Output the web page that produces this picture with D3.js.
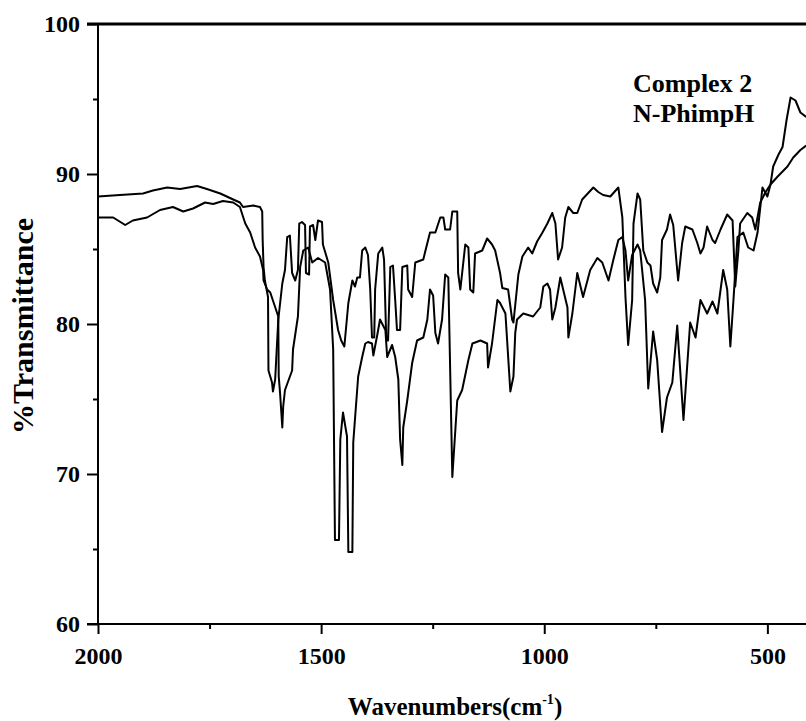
<!DOCTYPE html>
<html>
<head>
<meta charset="utf-8">
<script src="https://cdn.jsdelivr.net/npm/d3@7"></script>
<style>
  body { margin: 0; background: #fff; }
  svg text { font-family: "Liberation Serif", "Times New Roman", serif; font-weight: bold; fill: #000; }
</style>
</head>
<body>
<svg id="chart" width="806" height="721"></svg>
<script>
// spectrum with the lower baseline at 2000 cm-1
const complexWn = [2000,1966,1939,1922,1890,1861,1832,1809,1787,1760,1742,1720,1697,1682,1670,1659,1648,1637,1630,1629,
  1621,1614,1596,1595,1592,1587,1585,1581,1565,1563,1552,1547,1540,1529,1520,1507,1491,1480,1473,1469,
  1460,1457,1451,1442,1439,1430,1428,1417,1408,1401,1395,1386,1383,1374,1368,1356,1352,1341,1334,1327,
  1323,1318,1316,1307,1296,1285,1271,1262,1256,1249,1244,1238,1229,1222,1215,1206,1195,1184,1170,1161,
  1143,1128,1126,1117,1105,1099,1087,1076,1069,1065,1061,1047,1025,1009,1002,993,987,982,975,964,
  948,946,937,926,913,897,881,870,856,845,834,825,818,812,803,791,785,774,767,756,
  747,736,725,713,702,688,673,661,650,635,623,612,599,590,583,576,567,554,543,531,
  522,511,500,493,487,475,466,457,448,437,426,413];
const complexT = [87.1,87.1,86.6,86.9,87.1,87.6,87.8,87.5,87.7,88.1,88.0,88.2,88.1,87.8,86.7,86.1,85.1,84.5,83.6,82.9,
  82.3,82.1,80.5,76.5,75.4,73.1,74.5,75.6,76.9,78.3,80.5,83.8,84.9,85.1,84.1,84.4,84.1,82.3,78.3,65.6,
  65.6,72.3,74.1,72.5,64.8,64.8,72.1,76.5,77.8,78.7,78.8,78.7,77.9,79.3,80.3,79.6,77.8,78.6,77.8,76.3,
  72.3,70.6,73.1,74.9,77.4,78.9,79.1,80.3,82.3,81.9,79.4,78.7,80.3,83.3,83.1,69.8,74.9,75.6,77.6,78.7,
  78.9,78.7,77.1,78.7,81.6,81.4,80.7,75.5,76.5,79.4,80.3,80.7,80.5,81.1,82.5,82.7,82.3,80.3,81.1,83.1,
  81.1,79.1,80.7,83.4,81.8,83.6,84.4,84.1,82.9,84.3,85.6,85.8,84.9,82.9,84.6,85.3,84.9,81.6,75.7,79.5,
  77.6,72.8,75.1,76.1,79.9,73.6,80.1,79.1,81.6,80.7,81.5,80.7,83.6,82.3,78.5,81.6,85.8,86.1,85.1,84.9,
  86.1,89.1,88.5,89.3,90.5,91.3,91.8,93.6,95.1,94.9,94.1,93.8];

// spectrum with the higher baseline at 2000 cm-1
const ligandWn = [2000,1951,1899,1877,1845,1816,1778,1756,1726,1697,1682,1675,1652,1637,1632,1631,1629,1626,1619,1618,
  1610,1608,1603,1596,1587,1581,1576,1570,1565,1558,1552,1549,1543,1536,1534,1527,1525,1518,1513,1507,
  1498,1496,1484,1473,1462,1455,1448,1439,1430,1424,1419,1413,1408,1401,1395,1390,1386,1381,1379,1372,
  1363,1359,1354,1350,1345,1339,1334,1330,1323,1318,1307,1305,1296,1289,1271,1267,1256,1244,1233,1226,
  1222,1211,1206,1195,1193,1188,1177,1170,1166,1159,1155,1139,1128,1117,1110,1099,1094,1081,1072,1069,
  1058,1049,1036,1027,1016,1004,993,982,975,969,960,953,946,935,926,915,890,879,868,852,
  834,825,818,812,803,800,791,785,778,769,762,756,747,740,736,725,718,711,700,691,
  684,668,657,650,643,635,623,617,605,590,578,572,565,561,545,534,527,516,504,493,
  478,455,442,426,413];
const ligandT = [88.5,88.6,88.7,88.9,89.1,89.0,89.2,89.0,88.7,88.3,88.1,87.8,87.9,87.8,87.5,85.6,83.8,82.9,81.8,76.9,
  76.1,75.5,76.3,80.3,82.7,83.6,85.8,85.9,83.4,82.9,83.6,86.7,86.8,86.6,83.4,83.3,86.5,86.6,85.6,86.9,
  86.8,85.3,84.1,81.6,79.6,78.9,78.5,81.4,82.9,82.5,83.1,83.1,84.9,85.1,84.6,82.3,79.1,79.1,82.3,84.7,
  85.1,84.3,78.9,78.9,83.8,83.9,81.6,79.6,79.6,83.8,83.9,82.3,81.8,84.1,84.3,84.8,86.1,86.1,87.1,87.1,
  86.3,86.3,87.5,87.5,83.4,82.3,85.3,85.1,82.3,82.1,84.7,84.9,85.7,85.3,84.9,83.4,82.4,82.3,80.3,80.1,
  83.3,84.5,85.1,84.7,85.5,86.1,86.7,87.4,86.7,84.3,85.1,87.1,87.8,87.4,87.4,88.3,89.1,88.8,88.6,88.5,
  89.1,87.1,81.8,78.6,81.6,86.7,88.7,88.3,84.9,84.1,83.9,82.7,82.1,83.1,85.6,86.3,87.3,86.6,82.9,85.4,
  86.5,86.3,85.4,84.7,85.1,86.5,85.6,85.4,86.3,87.3,86.9,82.5,84.9,86.7,87.4,87.1,86.3,88.1,88.8,89.3,
  89.8,90.5,91.1,91.6,91.9];

const xMajor = [2000, 1500, 1000, 500];
const xMinor = [1750, 1250, 750];
const yMajor = [60, 70, 80, 90, 100];
const yMinor = [65, 75, 85, 95];
const legendLines = ["Complex 2", "N-PhimpH"];

const plotLeft = 98, plotTop = 24, plotBottom = 624, plotRight = 806;

const svg = d3.select("#chart");

const x = d3.scaleLinear().domain([2000, 400]).range([plotLeft, 812]);
const y = d3.scaleLinear().domain([60, 100]).range([plotBottom, plotTop]);

svg.append("clipPath").attr("id", "plot")
  .append("rect").attr("x", plotLeft).attr("y", plotTop)
  .attr("width", plotRight - plotLeft).attr("height", plotBottom - plotTop);

// spectra
const line = d3.line().x(d => x(d[0])).y(d => y(d[1]));
[[complexWn, complexT], [ligandWn, ligandT]].forEach(function (s) {
  svg.append("path")
    .datum(d3.zip(s[0], s[1]))
    .attr("clip-path", "url(#plot)")
    .attr("fill", "none")
    .attr("stroke", "#000")
    .attr("stroke-width", 2)
    .attr("stroke-linejoin", "round")
    .attr("d", line);
});

// axes
function styleAxis(g, size) {
  g.select(".domain").remove();
  g.selectAll(".tick line").attr("stroke", "#000").attr("stroke-width", 2);
  g.selectAll("text").attr("font-size", size).attr("font-family", null).attr("fill", "#000");
}

svg.append("g").attr("transform", `translate(0,${plotBottom})`)
  .call(d3.axisBottom(x).tickValues(xMajor).tickSize(10).tickPadding(13).tickFormat(d3.format("d")))
  .call(g => styleAxis(g, 24));
svg.append("g").attr("transform", `translate(0,${plotBottom})`)
  .call(d3.axisBottom(x).tickValues(xMinor).tickSize(5).tickFormat(""))
  .call(g => styleAxis(g, 24));

svg.append("g").attr("transform", `translate(${plotLeft},0)`)
  .call(d3.axisLeft(y).tickValues(yMajor).tickSize(11).tickPadding(7).tickFormat(d3.format("d")))
  .call(g => styleAxis(g, 24));
svg.append("g").attr("transform", `translate(${plotLeft},0)`)
  .call(d3.axisLeft(y).tickValues(yMinor).tickSize(5).tickFormat(""))
  .call(g => styleAxis(g, 24));

// frame
svg.append("line").attr("x1", plotLeft).attr("x2", plotLeft).attr("y1", plotTop).attr("y2", plotBottom)
  .attr("stroke", "#000").attr("stroke-width", 2);
svg.append("line").attr("x1", plotLeft - 11).attr("x2", plotRight).attr("y1", plotBottom).attr("y2", plotBottom)
  .attr("stroke", "#000").attr("stroke-width", 2);
svg.append("line").attr("x1", plotLeft - 11).attr("x2", plotRight).attr("y1", plotTop).attr("y2", plotTop)
  .attr("stroke", "#000").attr("stroke-width", 3);

// legend text
svg.selectAll(".legend").data(legendLines).enter().append("text")
  .attr("class", "legend")
  .attr("x", 633)
  .attr("y", (d, i) => 92 + i * 30)
  .attr("font-size", 26)
  .text(d => d);

// axis titles
const xt = svg.append("text").attr("x", 455).attr("y", 715).attr("text-anchor", "middle").attr("font-size", 25);
xt.append("tspan").text("Wavenumbers(cm");
xt.append("tspan").attr("font-size", 14).attr("dy", -11).text("-1");
xt.append("tspan").attr("dy", 11).text(")");

svg.append("text")
  .attr("transform", "translate(33,326) rotate(-90)")
  .attr("text-anchor", "middle")
  .attr("font-size", 30)
  .text("%Transmittance");
</script>
</body>
</html>
